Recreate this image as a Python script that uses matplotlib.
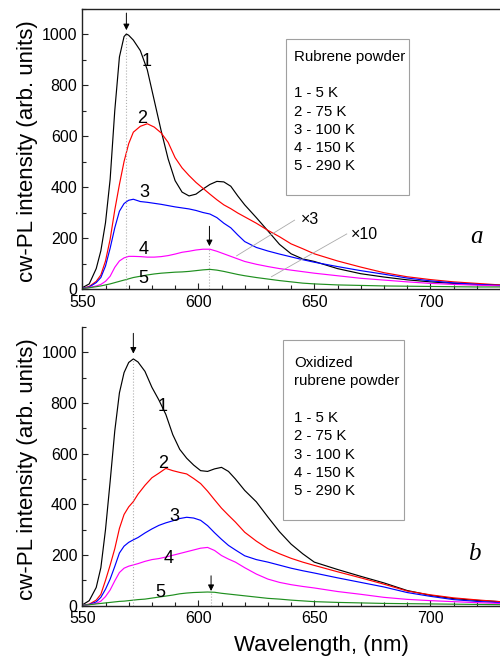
import matplotlib
matplotlib.use("Agg")
import matplotlib.pyplot as plt
from matplotlib.patches import Rectangle
from matplotlib.ticker import MultipleLocator

plt.rcParams['font.family'] = ['Liberation Sans', 'DejaVu Sans']

# ---------------- data: panel a (rubrene powder) ----------------
wl_a = [550, 553, 556, 558, 560, 562, 564, 566, 568, 569, 570, 572, 575, 578, 581, 584,
        587, 590, 593, 596, 599, 602, 605, 608, 611, 614, 617, 620, 625, 630, 635, 640,
        645, 650, 660, 670, 680, 690, 700, 710, 720, 730]
k5_a = [5, 20, 80, 150, 260, 430, 700, 910, 990, 1000, 995, 976, 935, 860, 740, 620,
        510, 425, 380, 365, 372, 392, 410, 422, 420, 403, 365, 330, 280, 228, 175, 138,
        118, 108, 80, 60, 47, 36, 28, 22, 18, 15]
k75_a = [2, 10, 30, 55, 110, 195, 310, 410, 500, 535, 570, 615, 638, 648, 635, 612,
         575, 515, 475, 445, 418, 395, 372, 350, 330, 315, 298, 283, 258, 230, 205, 177,
         158, 138, 110, 86, 64, 48, 37, 28, 22, 16]
k100_a = [3, 8, 25, 45, 90, 160, 240, 305, 335, 342, 348, 352, 343, 340, 336, 332,
          327, 322, 318, 314, 308, 300, 294, 280, 258, 240, 212, 186, 163, 149, 137, 126,
          115, 105, 88, 72, 58, 43, 32, 24, 18, 14]
k150_a = [2, 6, 12, 18, 30, 50, 85, 110, 122, 125, 128, 128, 127, 125, 125, 127,
          131, 137, 144, 148, 153, 156, 156, 148, 138, 128, 118, 108, 97, 88, 80, 74,
          68, 62, 52, 42, 35, 28, 22, 18, 15, 12]
k290_a = [2, 5, 9, 12, 16, 20, 25, 30, 35, 37, 40, 45, 50, 55, 59, 62,
          64, 66, 67, 69, 72, 75, 77, 74, 69, 63, 57, 52, 45, 39, 33, 28,
          23, 20, 16, 14, 12, 11, 10, 9, 8, 8]

# ---------------- data: panel b (oxidized rubrene powder) ----------------
wl_b = [550, 553, 556, 558, 560, 562, 564, 566, 568, 570, 572, 574, 577, 580, 583, 586,
        589, 592, 595, 598, 601, 604, 607, 610, 613, 616, 620, 625, 630, 635, 640, 645,
        650, 660, 670, 680, 690, 700, 710, 720, 730]
k5_b = [3, 20, 72, 150, 300, 490, 690, 840, 920, 960, 974, 962, 925, 862, 812, 755,
        675, 617, 582, 555, 533, 530, 540, 546, 530, 500, 455, 410, 350, 292, 243, 205,
        172, 143, 116, 90, 60, 41, 28, 21, 16]
k75_b = [2, 6, 22, 45, 100, 160, 225, 305, 360, 390, 411, 440, 475, 505, 523, 542,
         533, 526, 520, 502, 482, 452, 418, 385, 357, 330, 290, 255, 225, 205, 187, 172,
         159, 134, 110, 85, 58, 43, 31, 23, 16]
k100_b = [2, 5, 15, 33, 65, 105, 155, 208, 235, 250, 260, 269, 287, 303, 317, 327,
          335, 344, 349, 346, 337, 316, 288, 262, 238, 220, 197, 182, 172, 160, 148, 138,
          129, 110, 92, 74, 52, 37, 24, 17, 12]
k150_b = [2, 4, 9, 18, 36, 62, 98, 131, 148, 156, 161, 166, 175, 182, 186, 192,
          199, 206, 213, 220, 227, 230, 218, 198, 184, 172, 150, 125, 105, 92, 83, 76,
          70, 56, 45, 33, 25, 20, 16, 12, 9]
k290_b = [2, 4, 7, 9, 11, 13, 15, 17, 18, 20, 22, 24, 26, 30, 34, 38,
          42, 47, 50, 52, 53, 54, 53, 49, 46, 43, 39, 34, 29, 26, 22, 19,
          16, 13, 11, 9, 8, 7, 6, 5, 4]

curve_ids = ["1", "2", "3", "4", "5"]
temps = ["5 K", "75 K", "100 K", "150 K", "290 K"]
colors = ["#000000", "#ff0000", "#0000ff", "#ff00ff", "#1f8f1f"]

ylabel = "cw-PL intensity (arb. units)"
xlabel = "Wavelength, (nm)"
xticks = [550, 600, 650, 700]
yticks = [0, 200, 400, 600, 800, 1000]

# label positions (wavelength, intensity)
lab_pos_a = [(577.7, 891), (575.6, 667), (576.6, 378), (576.3, 156), (576.3, 42)]
lab_pos_b = [(584.8, 785), (584.9, 563), (589.5, 354), (587.4, 187), (583.8, 51)]

W, H = 500, 668
fig = plt.figure(figsize=(W / 100, H / 100), dpi=100)

left = 82.3 / W
width = 464.0 / W  # axis runs 550-750 nm, the right part is cut by the figure edge
ax_a = fig.add_axes([left, 1 - 289 / H, width, (289 - 8.5) / H])
ax_b = fig.add_axes([left, 1 - 605.7 / H, width, (605.7 - 327) / H])


def style(ax, top_spine):
    ax.set_xlim(550, 750)
    ax.set_ylim(0, 1100)
    ax.set_xticks(xticks)
    ax.set_yticks(yticks)
    ax.xaxis.set_minor_locator(MultipleLocator(10))
    ax.yaxis.set_minor_locator(MultipleLocator(100))
    ax.tick_params(which='both', direction='in', labelsize=11.5, color='#222222')
    ax.tick_params(which='major', length=4.5, width=0.8)
    ax.tick_params(which='minor', length=2.8, width=0.8)
    ax.tick_params(axis='x', pad=4)
    ax.tick_params(axis='y', pad=3.5)
    for s in ax.spines.values():
        s.set_linewidth(1.0)
        s.set_color('#222222')
    ax.spines['top'].set_visible(top_spine)
    ax.set_ylabel(ylabel, fontsize=16)
    ax.yaxis.set_label_coords(-0.096, 0.49)


style(ax_a, True)
style(ax_b, False)

series_a = [k5_a, k75_a, k100_a, k150_a, k290_a]
series_b = [k5_b, k75_b, k100_b, k150_b, k290_b]

for ax, wl, series, labpos in [(ax_a, wl_a, series_a, lab_pos_a),
                               (ax_b, wl_b, series_b, lab_pos_b)]:
    for cid, ys, c, (lx, ly) in zip(curve_ids, series, colors, labpos):
        ax.plot(wl, ys, color=c, lw=0.85)
        ax.text(lx, ly, cid, fontsize=13, ha='center', va='center')

# dotted guide lines + arrows
guides_a = [(569, 1000, 1082, 1015), (604.8, 156, 246, 168)]
guides_b = [(572, 974, 1075, 995), (605.5, 54, 118, 58)]
for ax, guides in [(ax_a, guides_a), (ax_b, guides_b)]:
    for x, peak, top, tip in guides:
        ax.plot([x, x], [0, peak], ls=':', color='#b0b0b0', lw=0.8)
        ax.annotate('', xy=(x, tip), xytext=(x, top),
                    arrowprops=dict(arrowstyle='-|>', color='black', lw=0.7,
                                    mutation_scale=9, shrinkA=0, shrinkB=0))

# multiplier annotations (panel a)
ax_a.plot([641.5, 616.5], [270, 130], color='#aaaaaa', lw=0.6)
ax_a.plot([664, 631.5], [216, 48], color='#aaaaaa', lw=0.6)
ax_a.text(644.3, 271, "\u00d73", fontsize=11.5, ha='left', va='center')
ax_a.text(665.6, 213, "\u00d710", fontsize=11.5, ha='left', va='center')

# text boxes
ax_a.add_patch(Rectangle((637.8, 369), 53.1, 610, fill=False, ec='#a0a0a0', lw=0.8))
ax_a.text(641.4, 911, "Rubrene powder", fontsize=10.8, ha='left', va='center')
for i, (cid, t) in enumerate(zip(curve_ids, temps)):
    ax_a.text(641.4, 767 - 71.5 * i, f"{cid} - {t}", fontsize=10.8, ha='left', va='center')

ax_b.add_patch(Rectangle((636.6, 339), 52.0, 711, fill=False, ec='#a0a0a0', lw=0.8))
ax_b.text(641.4, 958, "Oxidized", fontsize=10.8, ha='left', va='center')
ax_b.text(641.4, 885, "rubrene powder", fontsize=10.8, ha='left', va='center')
for i, (cid, t) in enumerate(zip(curve_ids, temps)):
    ax_b.text(641.4, 741 - 72.5 * i, f"{cid} - {t}", fontsize=10.8, ha='left', va='center')

# panel letters
ax_a.text(720, 205, "a", fontsize=18, style='italic', family='Liberation Serif',
          ha='center', va='center')
ax_b.text(718.8, 205, "b", fontsize=18, style='italic', family='Liberation Serif',
          ha='center', va='center')

ax_b.set_xlabel(xlabel, fontsize=16)
ax_b.xaxis.set_label_coords(0.5155, -0.104)

fig.savefig("out.png", dpi=100)
